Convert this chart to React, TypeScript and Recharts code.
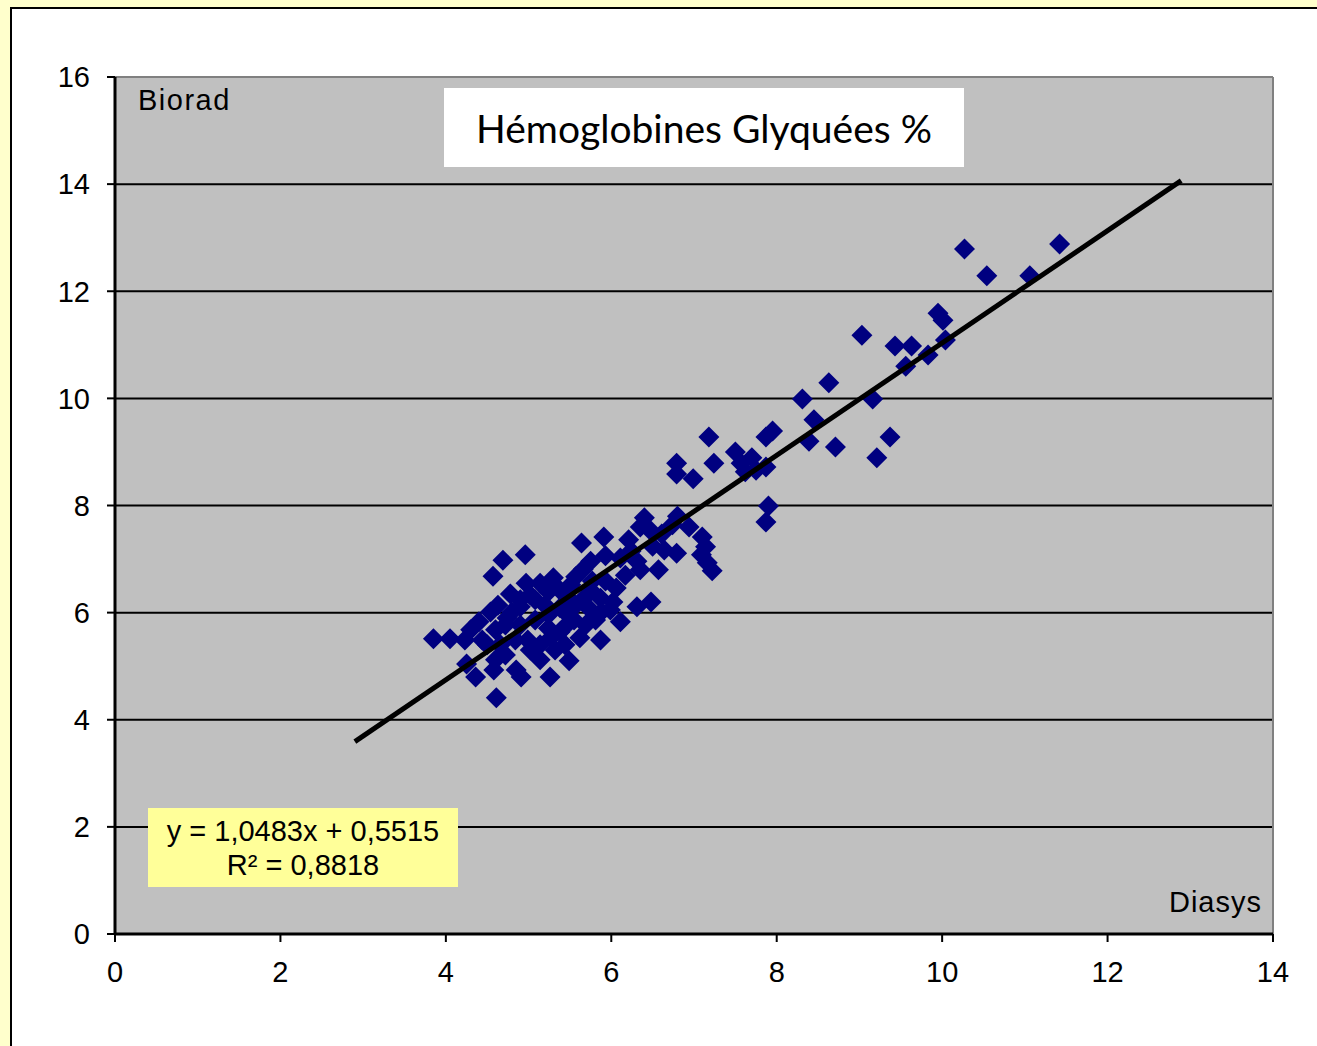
import { ScatterChart, Scatter, XAxis, YAxis, CartesianGrid, ReferenceLine } from 'recharts';

// Diasys (x) vs Biorad (y), HbA1c %
const diasys = [
  11.42, 10.27, 10.54, 11.06, 9.95, 10.01, 10.04, 9.03, 9.43, 9.63, 9.56, 9.83,
  9.16, 8.63, 8.31, 8.45, 9.37, 9.21, 8.71, 8.39, 7.95, 7.87, 7.87, 7.9, 7.87,
  7.5, 7.57, 7.7, 7.62, 7.75, 7.18, 7.24, 6.99, 6.79, 6.79, 7.1, 7.14, 7.09,
  7.16, 7.22, 6.94, 6.8, 6.74, 6.61, 6.47, 6.4, 6.35, 6.5, 6.64, 6.79, 6.57,
  6.21, 6.24, 6.11, 6.31, 6.48, 6.31, 6.11, 5.91, 5.64, 5.93, 5.75, 5.66, 5.57,
  5.93, 6.02, 5.88, 5.87, 5.49, 5.26, 4.91, 4.85, 4.61, 4.58, 4.36, 4.25, 3.85,
  4.05, 4.23, 4.57, 4.69, 4.96, 4.97, 5.14, 5.3, 4.78, 4.54, 4.4, 4.3, 4.44,
  4.6, 4.74, 4.9, 5.08, 5.24, 5.38, 5.48, 5.65, 5.75, 5.55, 5.42, 5.27, 5.14,
  4.99, 4.84, 4.66, 4.72, 5.08, 5.24, 4.9, 4.72, 5.38, 5.57, 5.69, 5.44, 5.62,
  5.81, 5.99, 6.06, 6.17, 6.35, 5.32, 5.14, 5.02, 4.6, 4.5, 4.9, 5.02, 5.2,
  4.8, 4.63, 5.44, 5.75, 5.87, 5.77, 5.51, 5.38, 5.24,
];
const biorad = [
  12.88, 12.79, 12.29, 12.29, 11.59, 11.46, 11.09, 11.18, 10.98, 10.98, 10.6,
  10.81, 9.99, 10.29, 9.99, 9.6, 9.28, 8.89, 9.09, 9.2, 9.39, 9.28, 8.72, 7.99,
  7.69, 9.0, 8.79, 8.89, 8.63, 8.66, 9.28, 8.79, 8.5, 8.79, 8.59, 7.41, 7.23,
  7.08, 6.93, 6.78, 7.6, 7.8, 7.64, 7.47, 7.54, 7.77, 7.6, 7.24, 7.17, 7.11,
  6.8, 7.36, 7.15, 7.02, 6.96, 6.2, 6.11, 5.83, 7.41, 7.3, 7.06, 6.96, 6.81,
  6.67, 6.59, 6.2, 6.01, 5.49, 5.1, 4.8, 4.8, 4.93, 4.41, 4.93, 4.8, 5.04, 5.51,
  5.51, 5.49, 6.68, 6.98, 7.08, 6.55, 6.55, 6.65, 6.35, 6.01, 5.83, 5.68, 5.49,
  5.68, 5.9, 6.11, 6.24, 6.39, 6.42, 6.27, 6.24, 6.05, 5.86, 5.71, 5.53, 5.4,
  5.49, 5.49, 5.4, 5.21, 5.86, 5.96, 5.77, 5.77, 6.09, 6.14, 5.77, 5.4, 5.53,
  5.86, 6.05, 6.46, 6.7, 6.8, 5.3, 5.12, 5.3, 5.12, 5.4, 6.24, 6.33, 6.14,
  6.01, 6.14, 6.01, 6.42, 6.27, 6.59, 6.52, 5.64, 5.71,
];

// Linear regression shown in the label box
const slope = 1.0483;
const intercept = 0.5515;
const trendRange = [2.9, 12.89];

const xTicks = [0, 2, 4, 6, 8, 10, 12, 14];
const yTicks = [0, 2, 4, 6, 8, 10, 12, 14, 16];

const points = diasys.map((x, i) => ({ x, y: biorad[i] }));
const trend = trendRange.map((x) => ({ x, y: slope * x + intercept }));

const font = '"Liberation Sans", Arial, sans-serif';
const tickStyle = { fontSize: 29, fill: '#000', fontFamily: font };

function Diamond(props: any) {
  const { cx, cy } = props;
  const r = 10.5;
  return (
    <polygon
      points={`${cx},${cy - r} ${cx + r},${cy} ${cx},${cy + r} ${cx - r},${cy}`}
      fill="#000080"
    />
  );
}

export default function App() {
  return (
    <div
      style={{
        position: 'absolute',
        left: 0,
        top: 0,
        width: 1317,
        height: 1046,
        background: '#FFFFCC',
        overflow: 'hidden',
      }}
    >
      <div
        style={{
          position: 'absolute',
          left: 10,
          top: 7,
          width: 1330,
          height: 1060,
          background: '#fff',
          border: '2px solid #000',
        }}
      />
      <div style={{ position: 'absolute', left: 0, top: 0 }}>
        <ScatterChart width={1317} height={1046} margin={{ top: 77, right: 44, bottom: 72, left: 0 }}>
          <CartesianGrid
            vertical={false}
            horizontal
            stroke="#000"
            strokeWidth={2}
            fill="#C0C0C0"
            fillOpacity={1}
          />
          <XAxis
            type="number"
            dataKey="x"
            domain={[0, 14]}
            ticks={xTicks}
            height={40}
            tick={tickStyle}
            tickSize={8}
            tickMargin={19}
            axisLine={{ stroke: '#000', strokeWidth: 3 }}
            tickLine={{ stroke: '#000', strokeWidth: 2 }}
          />
          <YAxis
            type="number"
            dataKey="y"
            domain={[0, 16]}
            ticks={yTicks}
            width={115}
            tick={tickStyle}
            tickSize={8}
            tickMargin={17}
            axisLine={{ stroke: '#000', strokeWidth: 3 }}
            tickLine={{ stroke: '#000', strokeWidth: 2 }}
          />
          <ReferenceLine y={16} stroke="#808080" strokeWidth={2} />
          <ReferenceLine x={14} stroke="#808080" strokeWidth={2} />
          <Scatter data={points} shape={Diamond} isAnimationActive={false} />
          <Scatter
            data={trend}
            line={{ stroke: '#000', strokeWidth: 5 }}
            shape={() => <g />}
            isAnimationActive={false}
          />
        </ScatterChart>
      </div>

      <div
        style={{
          position: 'absolute',
          left: 138,
          top: 84,
          fontFamily: font,
          fontSize: 29,
          letterSpacing: 1.5,
        }}
      >
        Biorad
      </div>
      <div
        style={{
          position: 'absolute',
          right: 1317 - 1262,
          top: 886,
          fontFamily: font,
          fontSize: 29,
          letterSpacing: 1,
        }}
      >
        Diasys
      </div>

      <div
        style={{
          position: 'absolute',
          left: 444,
          top: 88,
          width: 520,
          height: 79,
          background: '#fff',
          display: 'flex',
          alignItems: 'center',
          justifyContent: 'center',
          fontFamily: 'Lato, "Open Sans", sans-serif',
          fontSize: 39,
          color: '#000',
        }}
      >
        Hémoglobines Glyquées %
      </div>

      <div
        style={{
          position: 'absolute',
          left: 148,
          top: 808,
          width: 310,
          height: 79,
          background: '#FFFF99',
          fontFamily: font,
          fontSize: 29,
          lineHeight: '34px',
          textAlign: 'center',
          display: 'flex',
          flexDirection: 'column',
          justifyContent: 'center',
        }}
      >
        <div>y = 1,0483x + 0,5515</div>
        <div>R² = 0,8818</div>
      </div>
    </div>
  );
}
